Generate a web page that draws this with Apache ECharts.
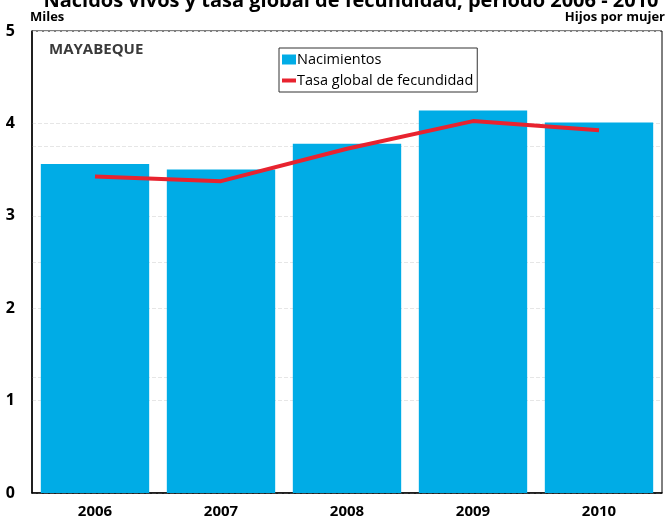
<!DOCTYPE html>
<html><head><meta charset="utf-8">
<script src="https://cdn.jsdelivr.net/npm/echarts@6/dist/echarts.min.js"></script>
<style>html,body{margin:0;padding:0;background:#fff}#c{width:668px;height:519px}</style>
</head><body><div id="c"></div>
<script>
var years = ['2006','2007','2008','2009','2010'];
var nacimientos = [3.56, 3.50, 3.78, 4.14, 4.01];
var tgf = [1.37, 1.35, 1.49, 1.61, 1.57];
var leftTicks = [0, 5, 1];
var rightTicks = [0, 2, 0.5];

var chart = echarts.init(document.getElementById('c'), null, {renderer:'canvas'});
var F = 'Open Sans, Liberation Sans, sans-serif';
chart.setOption({
  animation:false,
  backgroundColor:'#fff',
  title:[
    {text:'Nacidos vivos y tasa global de fecundidad, período 2006 - 2010', left:346, textAlign:'center', top:-14,
     textStyle:{fontFamily:F, fontWeight:'bold', fontSize:20, color:'#000'}},
    {text:'MAYABEQUE', left:44, top:37, textStyle:{fontFamily:F, fontWeight:'bold', fontSize:15, color:'#3a3a3a'}}
  ],
  legend:{
    left:279, top:48, orient:'vertical', itemGap:6, padding:[4,4,4,3],
    borderColor:'#333', borderWidth:1, backgroundColor:'#fff',
    itemWidth:14, itemHeight:10,
    textStyle:{fontFamily:F, fontSize:14.5, color:'#000', padding:[0,0,0,-4]},
    data:[{name:'Nacimientos', icon:'rect'},{name:'Tasa global de fecundidad', icon:'path://M0,0H14V4H0Z'}]
  },
  grid:{left:32, right:5, top:31, bottom:25, show:true, borderColor:'#000', borderWidth:1, backgroundColor:'transparent'},
  xAxis:{type:'category', data:years,
    axisLine:{lineStyle:{color:'#000', width:1.5}}, axisTick:{show:false},
    axisLabel:{fontFamily:F, fontWeight:'bold', fontSize:15, color:'#000', margin:11}},
  yAxis:[
    {type:'value', min:leftTicks[0], max:leftTicks[1], interval:leftTicks[2], name:'Miles',
     nameLocation:'end', nameGap:7, nameTextStyle:{fontFamily:F, fontWeight:'bold', fontSize:13, color:'#000', align:'left', padding:[0,0,0,-2]},
     axisLine:{show:true, lineStyle:{color:'#000', width:1.5}}, axisTick:{show:false},
     axisLabel:{fontFamily:F, fontWeight:'bold', fontSize:16, color:'#000', margin:17},
     splitLine:{lineStyle:{color:'#e6e6e6', type:'dashed'}}},
    {type:'value', min:rightTicks[0], max:rightTicks[1], interval:rightTicks[2], name:'Hijos por mujer', position:'right',
     nameLocation:'end', nameGap:7, nameTextStyle:{fontFamily:F, fontWeight:'bold', fontSize:13, color:'#000', align:'right', padding:[0,-3,0,0]},
     axisLine:{show:false}, axisTick:{show:false}, axisLabel:{show:false},
     splitLine:{show:true, lineStyle:{color:'#e6e6e6', type:'dashed'}}}
  ],
  series:[
    {name:'Nacimientos', type:'bar', data:nacimientos, barCategoryGap:'14%', itemStyle:{color:'#00ace6'}},
    {name:'Tasa global de fecundidad', type:'line', yAxisIndex:1, data:tgf, showSymbol:false, symbol:'none',
     lineStyle:{color:'#e8232f', width:4}, itemStyle:{color:'#e8232f'}}
  ]
});
</script></body></html>
